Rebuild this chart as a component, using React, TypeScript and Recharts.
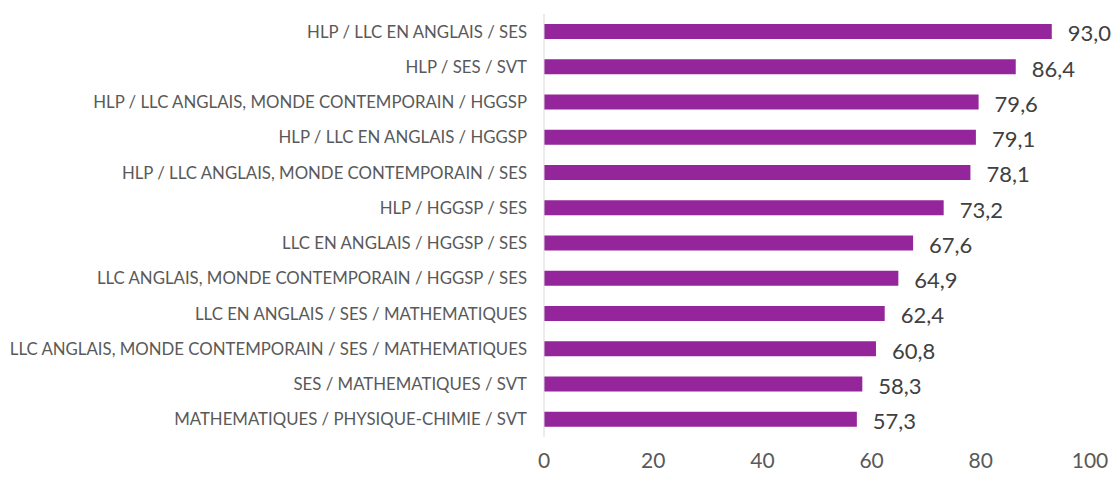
import { BarChart, Bar, XAxis, YAxis, LabelList } from 'recharts';

const combinations = [
  'HLP / LLC EN ANGLAIS / SES',
  'HLP / SES / SVT',
  'HLP / LLC ANGLAIS, MONDE CONTEMPORAIN / HGGSP',
  'HLP / LLC EN ANGLAIS / HGGSP',
  'HLP / LLC ANGLAIS, MONDE CONTEMPORAIN / SES',
  'HLP / HGGSP / SES',
  'LLC EN ANGLAIS / HGGSP / SES',
  'LLC ANGLAIS, MONDE CONTEMPORAIN / HGGSP / SES',
  'LLC EN ANGLAIS / SES / MATHEMATIQUES',
  'LLC ANGLAIS, MONDE CONTEMPORAIN / SES / MATHEMATIQUES',
  'SES / MATHEMATIQUES / SVT',
  'MATHEMATIQUES / PHYSIQUE-CHIMIE / SVT',
];

const shares = [93.0, 86.4, 79.6, 79.1, 78.1, 73.2, 67.6, 64.9, 62.4, 60.8, 58.3, 57.3];

const xTicks = [0, 20, 40, 60, 80, 100];

const data = combinations.map((name, i) => ({ name, value: shares[i] }));

const font = 'Lato, "Open Sans", sans-serif';

export default function App() {
  return (
    <div style={{ position: 'absolute', left: 0, top: 0 }}>
      <BarChart
        width={1114}
        height={479}
        data={data}
        layout="vertical"
        margin={{ top: 14, right: 24, bottom: 0, left: 0 }}
        barCategoryGap={10}
      >
        <XAxis
          type="number"
          domain={[0, 100]}
          ticks={xTicks}
          axisLine={false}
          tickLine={false}
          tickSize={0}
          tickMargin={16}
          height={42}
          interval={0}
          tick={{ fill: '#595959', fontSize: 21, fontFamily: font }}
        />
        <YAxis
          type="category"
          dataKey="name"
          width={544}
          axisLine={{ stroke: '#d9d9d9' }}
          tickLine={false}
          tickSize={0}
          tickMargin={17}
          interval={0}
          tick={{ fill: '#595959', fontSize: 16.8, fontFamily: font }}
        />
        <Bar dataKey="value" fill="#95259A" barSize={15} isAnimationActive={false}>
          <LabelList
            dataKey="value"
            position="right"
            offset={16}
            formatter={(v: number) => v.toFixed(1).replace('.', ',')}
            style={{ fill: '#404040', fontSize: 22, fontFamily: font }}
            dy={2}
          />
        </Bar>
      </BarChart>
    </div>
  );
}
